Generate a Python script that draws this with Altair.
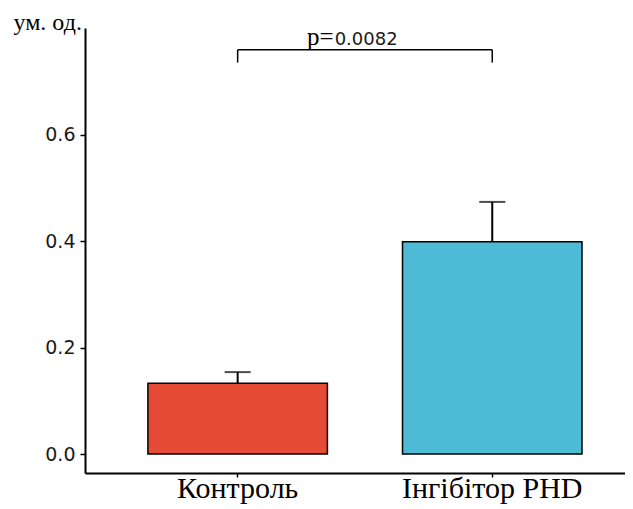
import altair as alt
import pandas as pd

groups = ["Контроль", "Інгібітор PHD"]
means = [0.133, 0.399]
errs = [0.021, 0.075]
colors = ["#E64B35", "#4DBBD5"]
y_ticks = [0.0, 0.2, 0.4, 0.6]
p_label_serif = "p="
p_label_value = "0.0082"
bracket_top = 0.760
bracket_bottom = 0.736
text_y = 0.769
y_title = "ум. од."

df = pd.DataFrame({"group": groups, "mean": means, "err": errs})
df["upper"] = df["mean"] + df["err"]

bracket_h = pd.DataFrame({"g1": [groups[0]], "g2": [groups[1]], "y": [bracket_top]})
bracket_v = pd.DataFrame({"group": groups, "y": [bracket_top] * 2, "y2": [bracket_bottom] * 2})
ptext = pd.DataFrame({"group": [groups[0]], "y": [text_y], "a": [p_label_serif], "b": [p_label_value]})

xscale = alt.Scale(domain=groups, paddingInner=0.295, paddingOuter=0.208, align=0.594)
yscale = alt.Scale(domain=[-0.0357, 0.801], nice=False, zero=False)

xenc = alt.X("group:N", scale=xscale, sort=groups,
             axis=alt.Axis(title=None, labelAngle=0, labelFont="Liberation Serif",
                           labelFontSize=30, labelColor="black", labelBaseline="alphabetic",
                           labelPadding=20, labelLimit=0, tickSize=4, tickColor="black",
                           tickWidth=1.5, domainColor="black", domainWidth=2))

bars = alt.Chart(df).mark_bar(stroke="black", strokeWidth=1.5).encode(
    x=xenc,
    y=alt.Y("mean:Q", scale=yscale,
            axis=alt.Axis(values=y_ticks, format=".1f", title=y_title, titleAngle=0,
                          titleAlign="left", titleBaseline="alphabetic", titleX=-72, titleY=1,
                          titleFont="Liberation Serif", titleFontSize=24, titleFontWeight="normal",
                          titleColor="black", labelFont="DejaVu Sans", labelFontSize=19,
                          labelColor="#1a1a1a", labelPadding=5, tickSize=5, tickColor="black",
                          tickWidth=1.5, domainColor="black", domainWidth=2, grid=False)),
    color=alt.Color("group:N", scale=alt.Scale(domain=groups, range=colors), legend=None),
)

stems = alt.Chart(df).mark_rule(color="black", strokeWidth=2).encode(
    x=alt.X("group:N", scale=xscale, sort=groups, bandPosition=0.5),
    y=alt.Y("mean:Q", scale=yscale),
    y2="upper:Q",
)

caps = alt.Chart(df).mark_tick(color="black", size=26, thickness=2, orient="horizontal").encode(
    x=alt.X("group:N", scale=xscale, sort=groups),
    y=alt.Y("upper:Q", scale=yscale),
)

br_h = alt.Chart(bracket_h).mark_rule(color="black", strokeWidth=1.5).encode(
    x=alt.X("g1:N", scale=xscale, bandPosition=0.5),
    x2=alt.X2("g2:N", bandPosition=0.5),
    y=alt.Y("y:Q", scale=yscale),
)

br_v = alt.Chart(bracket_v).mark_rule(color="black", strokeWidth=1.5).encode(
    x=alt.X("group:N", scale=xscale, sort=groups, bandPosition=0.5),
    y=alt.Y("y:Q", scale=yscale),
    y2="y2:Q",
)

t1 = alt.Chart(ptext).mark_text(font="Liberation Serif", fontSize=25, color="black",
                                align="right", baseline="alphabetic", dx=96).encode(
    x=alt.X("group:N", scale=xscale, bandPosition=0.5),
    y=alt.Y("y:Q", scale=yscale),
    text="a:N",
)

t2 = alt.Chart(ptext).mark_text(font="DejaVu Sans", fontSize=18, color="#1a1a1a",
                                align="left", baseline="alphabetic", dx=97).encode(
    x=alt.X("group:N", scale=xscale, bandPosition=0.5),
    y=alt.Y("y:Q", scale=yscale),
    text="b:N",
)

chart = alt.layer(bars, stems, caps, br_h, br_v, t1, t2).properties(
    width=540, height=445,
    autosize=alt.AutoSizeParams(type="none"),
    padding={"left": 77, "top": 20, "right": 0, "bottom": 34},
).configure(
    background="white",
    view=alt.ViewConfig(stroke="transparent", strokeWidth=0),
)

chart.save("out.html", embed_options={"renderer": "svg", "actions": False})
